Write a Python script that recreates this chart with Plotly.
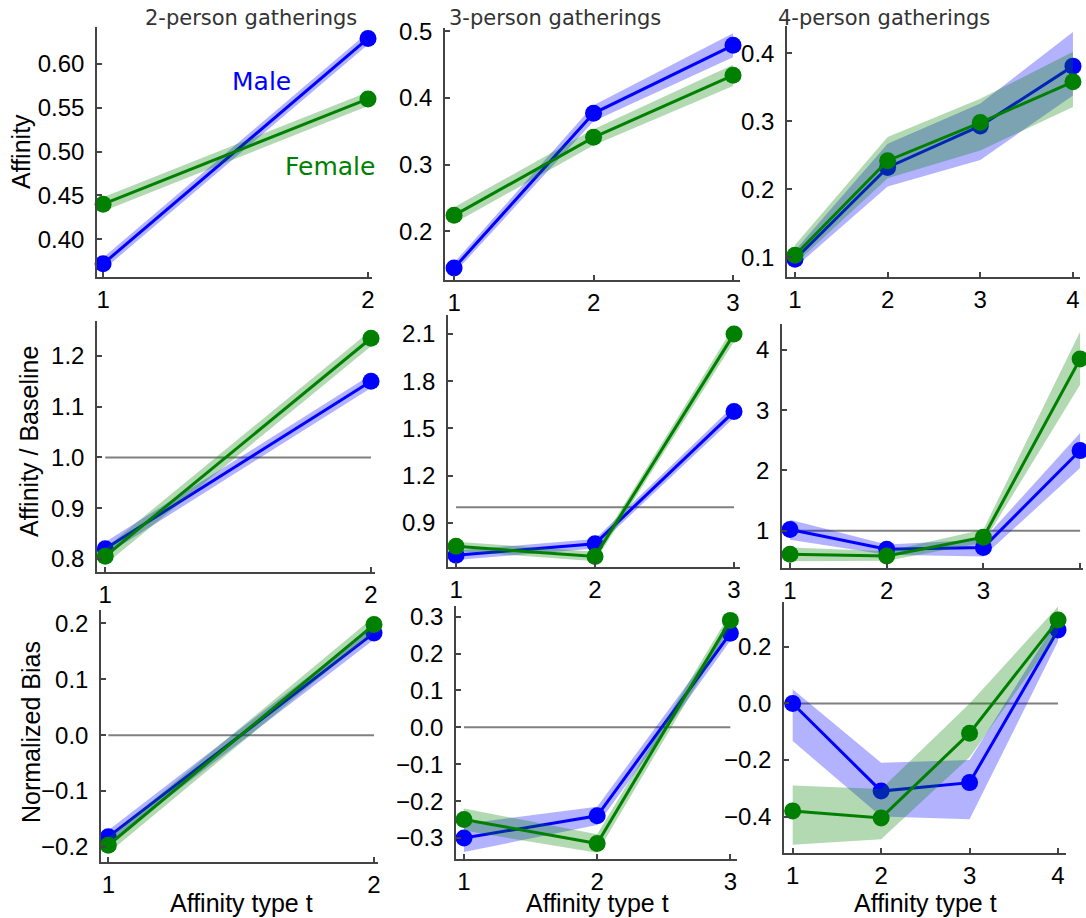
import plotly.graph_objects as go

W, H = 1086, 918

# ---------------- data ----------------
x2 = [1, 2]
x3 = [1, 2, 3]
x4 = [1, 2, 3, 4]

# Row 1: Affinity
male_aff2 = [0.372, 0.629]
male_aff2_lo = [0.365, 0.622]
male_aff2_hi = [0.379, 0.636]
female_aff2 = [0.440, 0.560]
female_aff2_lo = [0.432, 0.552]
female_aff2_hi = [0.448, 0.568]

male_aff3 = [0.145, 0.377, 0.479]
male_aff3_lo = [0.137, 0.365, 0.461]
male_aff3_hi = [0.153, 0.389, 0.497]
female_aff3 = [0.224, 0.341, 0.434]
female_aff3_lo = [0.212, 0.329, 0.418]
female_aff3_hi = [0.236, 0.353, 0.450]

male_aff4 = [0.097, 0.232, 0.293, 0.381]
male_aff4_lo = [0.085, 0.204, 0.243, 0.338]
male_aff4_hi = [0.110, 0.267, 0.326, 0.431]
female_aff4 = [0.103, 0.242, 0.298, 0.358]
female_aff4_lo = [0.090, 0.216, 0.257, 0.321]
female_aff4_hi = [0.118, 0.277, 0.333, 0.402]

# Row 2: Affinity / Baseline
male_rat2 = [0.820, 1.150]
male_rat2_lo = [0.807, 1.137]
male_rat2_hi = [0.833, 1.163]
female_rat2 = [0.805, 1.235]
female_rat2_lo = [0.789, 1.219]
female_rat2_hi = [0.821, 1.251]

male_rat3 = [0.694, 0.768, 1.607]
male_rat3_lo = [0.664, 0.738, 1.567]
male_rat3_hi = [0.724, 0.798, 1.647]
female_rat3 = [0.751, 0.687, 2.100]
female_rat3_lo = [0.721, 0.657, 2.050]
female_rat3_hi = [0.781, 0.717, 2.150]

male_rat4 = [1.02, 0.69, 0.72, 2.33]
male_rat4_lo = [0.85, 0.60, 0.57, 2.04]
male_rat4_hi = [1.18, 0.77, 0.85, 2.62]
female_rat4 = [0.61, 0.58, 0.89, 3.85]
female_rat4_lo = [0.49, 0.50, 0.80, 3.42]
female_rat4_hi = [0.72, 0.66, 1.02, 4.30]

# Row 3: Normalized Bias
male_bias2 = [-0.182, 0.183]
male_bias2_lo = [-0.194, 0.171]
male_bias2_hi = [-0.170, 0.195]
female_bias2 = [-0.197, 0.198]
female_bias2_lo = [-0.211, 0.184]
female_bias2_hi = [-0.183, 0.212]

male_bias3 = [-0.300, -0.240, 0.255]
male_bias3_lo = [-0.338, -0.265, 0.235]
male_bias3_hi = [-0.262, -0.215, 0.275]
female_bias3 = [-0.250, -0.315, 0.290]
female_bias3_lo = [-0.280, -0.340, 0.270]
female_bias3_hi = [-0.220, -0.290, 0.310]

male_bias4 = [0.000, -0.310, -0.280, 0.260]
male_bias4_lo = [-0.133, -0.400, -0.410, 0.220]
male_bias4_hi = [0.050, -0.210, -0.200, 0.300]
female_bias4 = [-0.380, -0.405, -0.105, 0.295]
female_bias4_lo = [-0.500, -0.480, -0.190, 0.250]
female_bias4_hi = [-0.290, -0.303, 0.000, 0.343]

titles = ["2-person gatherings", "3-person gatherings", "4-person gatherings"]
ylabels = ["Affinity", "Affinity / Baseline", "Normalized Bias"]
xlabel = "Affinity type t"

BLUE = "#0000ff"
GREEN = "#008000"
BLUE_FILL = "rgba(0,0,255,0.30)"
GREEN_FILL = "rgba(0,128,0,0.30)"
FONT = "Liberation Sans, Arial"
TICK_FS = 24
LABEL_FS = 25

# panel geometry in pixels: (left, right, top, bottom), x range, y range, ticks
panels = [
    dict(x=x2, m=male_aff2, mlo=male_aff2_lo, mhi=male_aff2_hi, f=female_aff2, flo=female_aff2_lo, fhi=female_aff2_hi,
         px=(97, 372, 27, 277), xr=[0.977, 2.015], yr=[0.357, 0.642], yt=[0.40, 0.45, 0.50, 0.55, 0.60], fmt=".2f", ref=None),
    dict(x=x3, m=male_aff3, mlo=male_aff3_lo, mhi=male_aff3_hi, f=female_aff3, flo=female_aff3_lo, fhi=female_aff3_hi,
         px=(445, 740, 28, 280), xr=[0.935, 3.05], yr=[0.127, 0.505], yt=[0.2, 0.3, 0.4, 0.5], fmt=".1f", ref=None),
    dict(x=x4, m=male_aff4, mlo=male_aff4_lo, mhi=male_aff4_hi, f=female_aff4, flo=female_aff4_lo, fhi=female_aff4_hi,
         px=(787, 1080, 26, 277), xr=[0.914, 4.076], yr=[0.071, 0.44], yt=[0.1, 0.2, 0.3, 0.4], fmt=".1f", ref=None),
    dict(x=x2, m=male_rat2, mlo=male_rat2_lo, mhi=male_rat2_hi, f=female_rat2, flo=female_rat2_lo, fhi=female_rat2_hi,
         px=(97, 375, 321, 572), xr=[0.969, 2.015], yr=[0.774, 1.269], yt=[0.8, 0.9, 1.0, 1.1, 1.2], fmt=".1f", ref=1.0),
    dict(x=x3, m=male_rat3, mlo=male_rat3_lo, mhi=male_rat3_hi, f=female_rat3, flo=female_rat3_lo, fhi=female_rat3_hi,
         px=(448, 740, 315, 567), xr=[0.942, 3.043], yr=[0.62, 2.22], yt=[0.9, 1.2, 1.5, 1.8, 2.1], fmt=".1f", ref=1.0),
    dict(x=x4, m=male_rat4, mlo=male_rat4_lo, mhi=male_rat4_hi, f=female_rat4, flo=female_rat4_lo, fhi=female_rat4_hi,
         px=(782, 1083, 324, 568), xr=[0.917, 4.03], yr=[0.38, 4.43], yt=[1, 2, 3, 4], fmt="d", ref=1.0),
    dict(x=x2, m=male_bias2, mlo=male_bias2_lo, mhi=male_bias2_hi, f=female_bias2, flo=female_bias2_lo, fhi=female_bias2_hi,
         px=(101, 378, 610, 862), xr=[0.9725, 2.015], yr=[-0.227, 0.224], yt=[-0.2, -0.1, 0.0, 0.1, 0.2], fmt=".1f", ref=0.0),
    dict(x=x3, m=male_bias3, mlo=male_bias3_lo, mhi=male_bias3_hi, f=female_bias3, flo=female_bias3_lo, fhi=female_bias3_hi,
         px=(456, 737, 606, 859), xr=[0.94, 3.05], yr=[-0.357, 0.329], yt=[-0.3, -0.2, -0.1, 0.0, 0.1, 0.2, 0.3], fmt=".1f", ref=0.0),
    dict(x=x4, m=male_bias4, mlo=male_bias4_lo, mhi=male_bias4_hi, f=female_bias4, flo=female_bias4_lo, fhi=female_bias4_hi,
         px=(784, 1066, 602, 853), xr=[0.902, 4.09], yr=[-0.529, 0.359], yt=[-0.4, -0.2, 0.0, 0.2], fmt=".1f", ref=0.0),
]

fig = go.Figure()
layout = dict(
    width=W, height=H, margin=dict(l=0, r=0, t=0, b=0, autoexpand=False),
    paper_bgcolor="white", plot_bgcolor="white", showlegend=False,
    font=dict(family=FONT, size=TICK_FS, color="black"),
)
annotations = []

AXCOL = "#444444"
for i, p in enumerate(panels):
    k = i + 1
    xa = "x" if k == 1 else f"x{k}"
    ya = "y" if k == 1 else f"y{k}"
    l, r, t, b = p["px"]
    common = dict(showgrid=False, zeroline=False, showline=True, linecolor=AXCOL, linewidth=1.5,
                  ticks="inside", ticklen=5, tickwidth=1.5, tickcolor=AXCOL, automargin=False,
                  tickfont=dict(size=TICK_FS, family=FONT, color="black"))
    layout["xaxis" if k == 1 else f"xaxis{k}"] = dict(
        domain=[l / W, r / W], anchor=ya, range=p["xr"], tickmode="array",
        tickvals=p["x"], ticktext=[str(v) for v in p["x"]], ticklabelstandoff=0, **common)
    if p["fmt"] == "d":
        tt = [str(int(v)) for v in p["yt"]]
    else:
        tt = [format(v, p["fmt"]).replace("-", "\u2212") for v in p["yt"]]
        tt = [s if s != "\u22120.0" else "0.0" for s in tt]
    layout["yaxis" if k == 1 else f"yaxis{k}"] = dict(
        domain=[1 - b / H, 1 - t / H], anchor=xa, range=p["yr"], tickmode="array",
        tickvals=p["yt"], ticktext=tt, ticklabelstandoff=6, **common)

    xs = p["x"]
    if p["ref"] is not None:
        fig.add_trace(go.Scatter(x=[xs[0], xs[-1]], y=[p["ref"], p["ref"]], mode="lines",
                                 line=dict(color="#808080", width=2), xaxis=xa, yaxis=ya, hoverinfo="skip"))
    for vals, lo, hi, col, fill in [(p["m"], p["mlo"], p["mhi"], BLUE, BLUE_FILL),
                                    (p["f"], p["flo"], p["fhi"], GREEN, GREEN_FILL)]:
        fig.add_trace(go.Scatter(x=list(xs) + list(xs[::-1]), y=list(hi) + list(lo[::-1]),
                                 fill="toself", fillcolor=fill, mode="lines", line=dict(width=0),
                                 xaxis=xa, yaxis=ya, hoverinfo="skip"))
        fig.add_trace(go.Scatter(x=xs, y=vals, mode="lines+markers",
                                 line=dict(color=col, width=3), marker=dict(color=col, size=17),
                                 xaxis=xa, yaxis=ya, cliponaxis=False))

# column titles
title_centers = [(251, 18), (555, 18), (884, 18)]
for txt, (cx, cy) in zip(titles, title_centers):
    annotations.append(dict(text=txt, x=cx / W, y=1 - cy / H, xref="paper", yref="paper",
                            showarrow=False, xanchor="center", yanchor="middle",
                            font=dict(family="DejaVu Sans", size=21, color="#333333")))

# y labels
ylab_pos = [(21, 152), (29, 442), (31, 732)]
for txt, (cx, cy) in zip(ylabels, ylab_pos):
    annotations.append(dict(text=txt, x=cx / W, y=1 - cy / H, xref="paper", yref="paper",
                            showarrow=False, xanchor="center", yanchor="middle", textangle=-90,
                            font=dict(family=FONT, size=LABEL_FS, color="black")))

# x labels
for cx in [241, 597, 925]:
    annotations.append(dict(text=xlabel, x=cx / W, y=1 - 903 / H, xref="paper", yref="paper",
                            showarrow=False, xanchor="center", yanchor="middle",
                            font=dict(family=FONT, size=LABEL_FS, color="black")))

# series labels
annotations.append(dict(text="Male", x=261 / W, y=1 - 82 / H, xref="paper", yref="paper",
                        showarrow=False, xanchor="center", yanchor="middle",
                        font=dict(family="DejaVu Sans", size=25, color=BLUE)))
annotations.append(dict(text="Female", x=330 / W, y=1 - 166 / H, xref="paper", yref="paper",
                        showarrow=False, xanchor="center", yanchor="middle",
                        font=dict(family="DejaVu Sans", size=25, color=GREEN)))

layout["annotations"] = annotations
fig.update_layout(**layout)
fig.write_html("out.html")
